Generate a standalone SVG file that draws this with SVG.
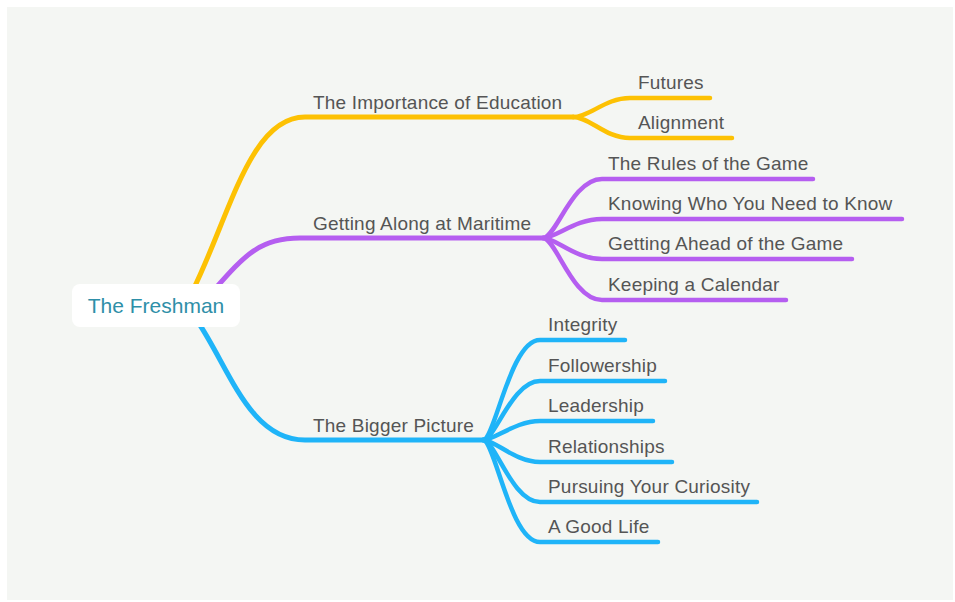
<svg xmlns="http://www.w3.org/2000/svg" width="955" height="602" viewBox="0 0 955 602">
<style>
.lbl{font-family:"Liberation Sans",Arial,Helvetica,sans-serif;font-size:19px;letter-spacing:0.2px;fill:#555555}
.root{font-family:"Liberation Sans",Arial,Helvetica,sans-serif;font-size:21px;fill:#2e8fa8}
.c{fill:none;stroke-linecap:round;stroke-linejoin:round}
.y{stroke:#fdc103}
.p{stroke:#b55ef0}
.b{stroke:#1fb4f8}
.m{stroke-width:5}
.s{stroke-width:4.5}
</style>
<rect x="0" y="0" width="955" height="602" fill="#ffffff"/>
<rect x="7" y="7" width="946" height="593" fill="#f4f6f3"/>
<g id="connectors">
<path class="c y m" d="M193 290 C230 215,250 117,305 117 L573 117"/>
<path class="c y s" d="M573 117 C590 117,605 98,630 98 L710 98"/>
<path class="c y s" d="M573 117 C590 117,605 138,630 138 L732 138"/>
<path class="c p m" d="M214 290 C245 255,260 238,300 238 L543 238"/>
<path class="c p s" d="M543 238 C556 238,572 179,602 179 L813 179"/>
<path class="c p s" d="M543 238 C556 238,575 219,602 219 L902 219"/>
<path class="c p s" d="M543 238 C556 238,575 259,602 259 L852 259"/>
<path class="c p s" d="M543 238 C556 238,572 300,602 300 L786 300"/>
<path class="c b m" d="M198 322 C230 370,250 440,305 440 L483 440"/>
<path class="c b s" d="M483 440 C495 440,510 340,540 340 L625 340"/>
<path class="c b s" d="M483 440 C495 440,512 381,540 381 L665 381"/>
<path class="c b s" d="M483 440 C495 440,515 421,540 421 L653 421"/>
<path class="c b s" d="M483 440 C495 440,515 462,540 462 L672 462"/>
<path class="c b s" d="M483 440 C495 440,512 502,540 502 L757 502"/>
<path class="c b s" d="M483 440 C495 440,510 542,540 542 L658 542"/>
</g>
<g id="root">
<rect x="72" y="284" width="168" height="43" rx="8" fill="#ffffff"/>
<text class="root" x="156" y="313" text-anchor="middle">The Freshman</text>
</g>
<g id="n-education"><text class="lbl" x="313" y="109">The Importance of Education</text></g>
<g id="n-futures"><text class="lbl" x="638" y="89">Futures</text></g>
<g id="n-alignment"><text class="lbl" x="638" y="129">Alignment</text></g>
<g id="n-maritime"><text class="lbl" x="313" y="230">Getting Along at Maritime</text></g>
<g id="n-rules"><text class="lbl" x="608" y="170">The Rules of the Game</text></g>
<g id="n-knowing"><text class="lbl" x="608" y="210">Knowing Who You Need to Know</text></g>
<g id="n-ahead"><text class="lbl" x="608" y="250">Getting Ahead of the Game</text></g>
<g id="n-calendar"><text class="lbl" x="608" y="291">Keeping a Calendar</text></g>
<g id="n-bigger"><text class="lbl" x="313" y="432">The Bigger Picture</text></g>
<g id="n-integrity"><text class="lbl" x="548" y="331">Integrity</text></g>
<g id="n-followership"><text class="lbl" x="548" y="372">Followership</text></g>
<g id="n-leadership"><text class="lbl" x="548" y="412">Leadership</text></g>
<g id="n-relationships"><text class="lbl" x="548" y="453">Relationships</text></g>
<g id="n-curiosity"><text class="lbl" x="548" y="493">Pursuing Your Curiosity</text></g>
<g id="n-goodlife"><text class="lbl" x="548" y="533">A Good Life</text></g>
</svg>
